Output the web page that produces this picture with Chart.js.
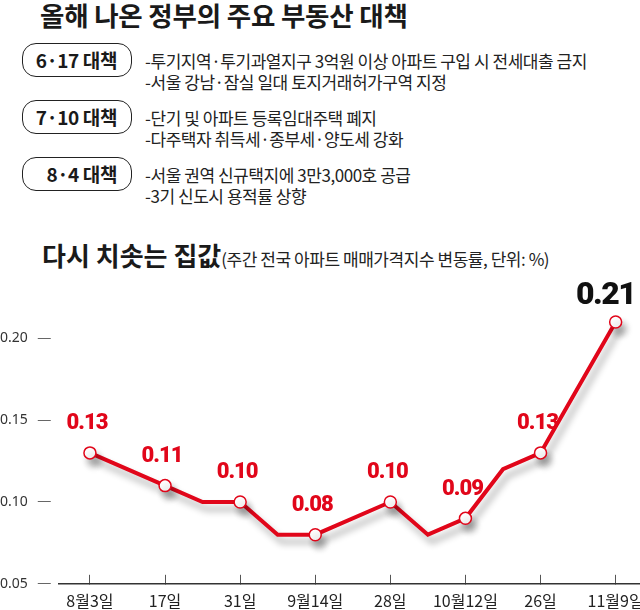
<!DOCTYPE html>
<html>
<head>
<meta charset="utf-8">
<script src="https://cdn.jsdelivr.net/npm/chart.js@4.4.0/dist/chart.umd.min.js"></script>
<style>
  html, body { margin: 0; padding: 0; background: #fff; overflow: hidden; }
  body { width: 640px; height: 610px; position: relative; font-family: 'Noto Sans CJK KR', 'Noto Sans', sans-serif; color: #1a1a1a; }
  .title { position: absolute; left: 40px; top: 2px; font-size: 26.5px; font-weight: 700; letter-spacing: -0.2px; line-height: 1; }
  .box { position: absolute; left: 22px; width: 94px; padding-right: 14px; height: 32px; border: 1.5px solid #222; border-radius: 14px;
         font-size: 19px; font-weight: 700; line-height: 32px; text-align: right; letter-spacing: -0.4px; }
  .desc { position: absolute; left: 145px; font-size: 17px; line-height: 21px; letter-spacing: -0.45px; color: #222; }
  .sub { position: absolute; left: 42px; top: 240px; font-size: 26px; font-weight: 700; letter-spacing: 0px; line-height: 30px; }
  .sub span { font-size: 17px; font-weight: 400; letter-spacing: -0.45px; color: #222; }
  #wrap { position: absolute; left: -10px; top: 261px; width: 671px; height: 367px; }
</style>
</head>
<body>
<div class="title">올해 나온 정부의 주요 부동산 대책</div>
<div id="policies"></div>
<div class="sub">다시 치솟는 집값<span>(주간 전국 아파트 매매가격지수 변동률, 단위: %)</span></div>
<div id="wrap"><canvas id="myChart"></canvas></div>
<script>
// policies
const policyNames = ['6·17 대책', '7·10 대책', '8·4 대책'];
const policyLines = [
  ['-투기지역·투기과열지구 3억원 이상 아파트 구입 시 전세대출 금지', '-서울 강남·잠실 일대 토지거래허가구역 지정'],
  ['-단기 및 아파트 등록임대주택 폐지', '-다주택자 취득세·종부세·양도세 강화'],
  ['-서울 권역 신규택지에 3만3,000호 공급', '-3기 신도시 용적률 상향']
];

// chart data (week index counted from 8월3일)
const tickLabels = ['8월3일', '17일', '31일', '9월14일', '28일', '10월12일', '26일', '11월9일'];
const weekIndex = [0, 2, 3, 4, 5, 6, 8, 9, 10, 11, 12, 14];
const changeRate = [0.13, 0.11, 0.10, 0.10, 0.08, 0.08, 0.10, 0.08, 0.09, 0.12, 0.13, 0.21];
const yTickValues = [0.05, 0.10, 0.15, 0.20];

const boxTops = [43, 100, 157];
const holder = document.getElementById('policies');
policyNames.forEach(function (name, i) {
  let b = document.createElement('div');
  b.className = 'box';
  b.style.top = boxTops[i] + 'px';
  b.textContent = name;
  holder.appendChild(b);
  let d = document.createElement('div');
  d.className = 'desc';
  d.style.top = (boxTops[i] + 7) + 'px';
  d.innerHTML = policyLines[i].join('<br>');
  holder.appendChild(d);
});

const RED = '#e1061a';

function isMarked(i) {
  return weekIndex[i] % 2 === 0;
}

const shadowPlugin = {
  id: 'shadow',
  beforeDatasetDraw(chart) {
    const ctx = chart.ctx;
    ctx.save();
    ctx.shadowColor = 'rgba(0,0,0,0.32)';
    ctx.shadowBlur = 7;
    ctx.shadowOffsetX = 4;
    ctx.shadowOffsetY = 7;
  },
  afterDatasetDraw(chart) {
    chart.ctx.restore();
  }
};

const valueLabels = {
  id: 'valueLabels',
  afterDatasetsDraw(chart) {
    const ctx = chart.ctx;
    const meta = chart.getDatasetMeta(0);
    ctx.save();
    ctx.textAlign = 'center';
    ctx.textBaseline = 'middle';
    meta.data.forEach(function (pt, i) {
      if (!isMarked(i)) return;
      const last = i === changeRate.length - 1;
      ctx.font = (last ? '900 32px' : '900 22px') + ' Roboto, "DejaVu Sans", sans-serif';
      ctx.letterSpacing = last ? '-1.5px' : '-1px';
      ctx.fillStyle = last ? '#111' : RED;
      ctx.fillText(changeRate[i].toFixed(2), pt.x + (last ? -10 : -3), pt.y - (last ? 26 : 29));
    });
    ctx.restore();
  }
};

const data = {
  datasets: [{
    label: '변동률',
    data: weekIndex.map(function (w, i) { return {x: w, y: changeRate[i]}; }),
    borderColor: RED,
    borderWidth: 4,
    borderJoinStyle: 'miter',
    tension: 0,
    pointRadius: function (c) { return isMarked(c.dataIndex) ? 6 : 0; },
    pointHoverRadius: 0,
    pointBackgroundColor: '#fff',
    pointBorderColor: RED,
    pointBorderWidth: 1.5
  }]
};

const config = {
  type: 'line',
  data: data,
  options: {
    responsive: true,
    maintainAspectRatio: false,
    animation: false,
    layout: { padding: { top: 10, right: 2, left: 0, bottom: 0 } },
    plugins: {
      legend: { display: false },
      tooltip: { enabled: false }
    },
    scales: {
      x: {
        type: 'linear',
        min: -0.83,
        max: 14.64,
        afterBuildTicks: function (s) {
          s.ticks = tickLabels.map(function (_, i) { return {value: i * 2}; });
        },
        ticks: {
          autoSkip: false,
          maxRotation: 0,
          padding: 17,
          color: '#222',
          font: { size: 16, family: '"Noto Sans CJK KR", sans-serif' },
          callback: function (v, i) { return tickLabels[i]; }
        },
        grid: { drawOnChartArea: false, tickLength: -9, tickColor: '#555', tickWidth: 1 },
        border: { color: '#333', width: 1.5 }
      },
      y: {
        min: 0.05,
        max: 0.236,
        afterBuildTicks: function (s) {
          s.ticks = yTickValues.map(function (v) { return {value: v}; });
        },
        ticks: {
          padding: 10,
          color: '#333',
          font: { size: 14, family: '"Noto Sans", sans-serif' },
          callback: function (v) { return v.toFixed(2); }
        },
        grid: { drawOnChartArea: false, tickLength: 21, tickBorderDash: [13, 40], tickColor: '#666', tickWidth: 1 },
        border: { display: false }
      }
    }
  },
  plugins: [shadowPlugin, valueLabels]
};

new Chart(document.getElementById('myChart'), config);
</script>
</body>
</html>
